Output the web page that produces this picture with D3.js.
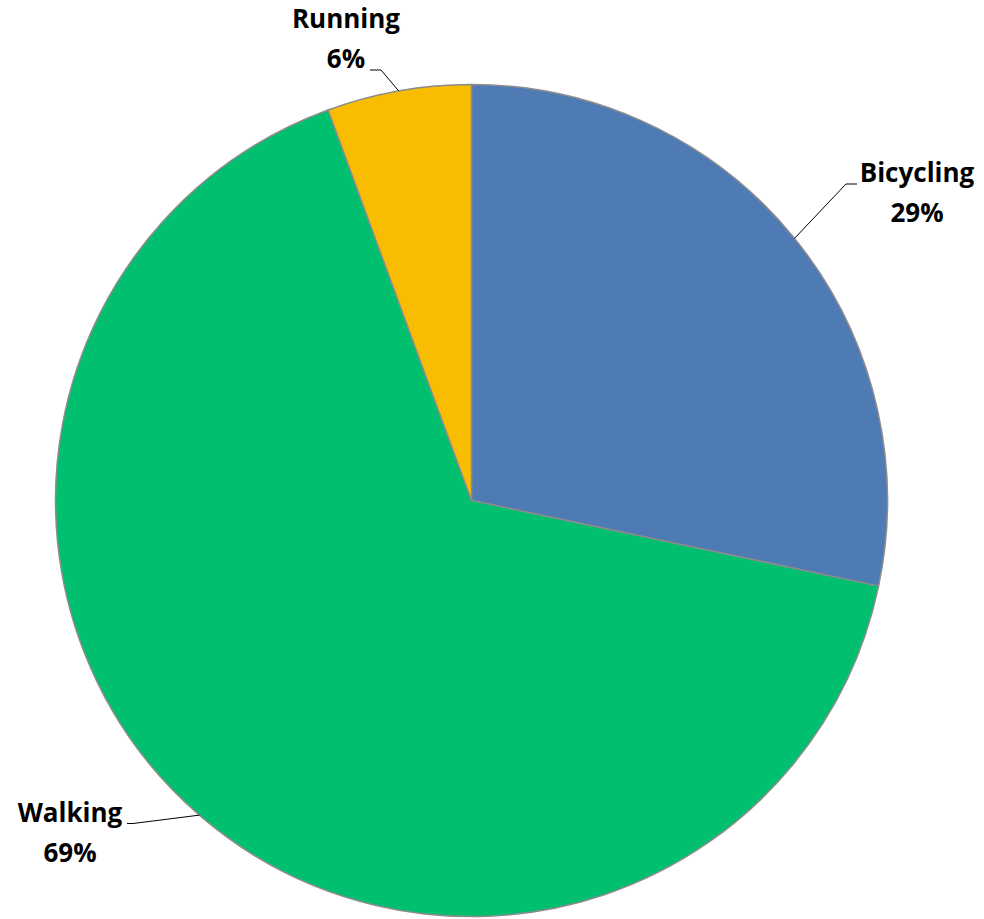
<!DOCTYPE html>
<html>
<head>
<meta charset="utf-8">
<script src="https://cdn.jsdelivr.net/npm/d3@7"></script>
<style>
  html, body { margin: 0; padding: 0; background: #fff; }
  svg { display: block; }
  text { font-family: "Open Sans", Lato, "DejaVu Sans", sans-serif; font-weight: bold; fill: #000; }
</style>
</head>
<body>
<svg id="chart" width="984" height="919"></svg>
<script>
// ---- data ----
const categories = ["Bicycling", "Walking", "Running"];
const values = [28.3, 66.1, 5.6];
const percentLabels = ["29%", "69%", "6%"];
const colors = ["#4F7BB5", "#00BF6F", "#F8BC00"];

// ---- layout ----
const W = 984, H = 919;
const cx = 471.5, cy = 500.5, R = 416;
// label placement: text center x, first baseline y, elbow point, leader end
const labelLayout = {
  "Bicycling": { tx: 917, ty: 182, elbow: [846, 184], end: [857, 184] },
  "Walking":   { tx: 70,  ty: 822, elbow: [133, 823.5], end: [127, 823.5] },
  "Running":   { tx: 346, ty: 28,  elbow: [381, 70], end: [370, 70] }
};

const svg = d3.select("#chart");
const g = svg.append("g").attr("transform", `translate(${cx},${cy})`);

const data = categories.map((c, i) => ({ name: c, value: values[i], label: percentLabels[i], color: colors[i] }));

const pie = d3.pie().sort(null).value(d => d.value);
const arc = d3.arc().innerRadius(0).outerRadius(R);
const arcs = pie(data);

g.selectAll("path.slice")
  .data(arcs)
  .enter().append("path")
  .attr("class", "slice")
  .attr("d", arc)
  .attr("fill", d => d.data.color)
  .attr("stroke", "#8C8C8C")
  .attr("stroke-width", 1.5)
  .attr("stroke-linejoin", "round");

// leader lines and labels
arcs.forEach(a => {
  const L = labelLayout[a.data.name];
  const mid = (a.startAngle + a.endAngle) / 2;
  const sx = cx + R * Math.sin(mid);
  const sy = cy - R * Math.cos(mid);
  svg.append("path")
    .attr("d", d3.line()([[sx, sy], L.elbow, L.end]))
    .attr("fill", "none")
    .attr("stroke", "#000")
    .attr("stroke-width", 1);
  const t = svg.append("text")
    .attr("x", L.tx)
    .attr("y", L.ty)
    .attr("text-anchor", "middle")
    .style("font-size", "26px");
  t.append("tspan").attr("x", L.tx).attr("y", L.ty).text(a.data.name);
  t.append("tspan").attr("x", L.tx).attr("y", L.ty + 40).text(a.data.label);
});
</script>
</body>
</html>
